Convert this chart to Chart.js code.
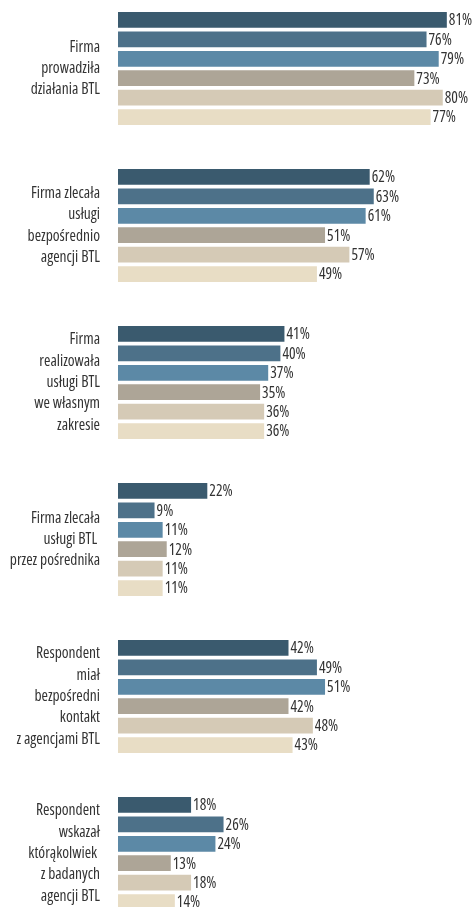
<!DOCTYPE html>
<html>
<head>
<meta charset="utf-8">
<script src="https://cdn.jsdelivr.net/npm/chart.js@4"></script>
<style>
  html, body { margin: 0; padding: 0; background: #ffffff; overflow: hidden; width: 472px; height: 907px; }
  #wrap { position: absolute; left: 0; top: -10px; width: 472px; height: 942px; }
</style>
</head>
<body>
<div id="wrap"><canvas id="c"></canvas></div>
<script>
const categories = [
  ["Firma", "prowadziła", "działania BTL"],
  ["Firma zlecała", "usługi", "bezpośrednio", "agencji BTL"],
  ["Firma", "realizowała", "usługi BTL", "we własnym", "zakresie"],
  ["Firma zlecała", "usługi BTL ", "przez pośrednika"],
  ["Respondent", "miał", "bezpośredni", "kontakt", "z agencjami BTL"],
  ["Respondent", "wskazał", "którąkolwiek ", "z badanych", "agencji BTL"]
];
const series1 = [81, 62, 41, 22, 42, 18];
const series2 = [76, 63, 40, 9, 49, 26];
const series3 = [79, 61, 37, 11, 51, 24];
const series4 = [73, 51, 35, 12, 42, 13];
const series5 = [80, 57, 36, 11, 48, 18];
const series6 = [77, 49, 36, 11, 43, 14];
const seriesNames = ["Seria 1", "Seria 2", "Seria 3", "Seria 4", "Seria 5", "Seria 6"];
const colors = ["#3a5a6e", "#4d7189", "#5c89a6", "#ada597", "#d5cab6", "#e8ddc5"];

const FONT = "'Open Sans', 'Liberation Sans', sans-serif";
const allSeries = [series1, series2, series3, series4, series5, series6];

const valueLabels = {
  id: 'valueLabels',
  afterDatasetsDraw(chart) {
    const ctx = chart.ctx;
    ctx.save();
    ctx.font = "condensed 15.5px " + FONT;
    ctx.fillStyle = "#333333";
    ctx.textAlign = "left";
    ctx.textBaseline = "middle";
    chart.data.datasets.forEach((ds, di) => {
      const meta = chart.getDatasetMeta(di);
      meta.data.forEach((bar, i) => {
        ctx.fillText(ds.data[i] + "%", bar.x + 2, bar.y + 1);
      });
    });
    ctx.restore();
  }
};

new Chart(document.getElementById('c'), {
  type: 'bar',
  data: {
    labels: categories,
    datasets: allSeries.map((s, i) => ({
      label: seriesNames[i],
      data: s,
      backgroundColor: colors[i],
      borderWidth: 0,
      categoryPercentage: 0.742,
      barPercentage: 0.815
    }))
  },
  options: {
    indexAxis: 'y',
    responsive: true,
    maintainAspectRatio: false,
    animation: false,
    layout: { padding: 0 },
    plugins: {
      legend: { display: false },
      tooltip: { enabled: false }
    },
    scales: {
      x: {
        display: false,
        min: 0,
        max: 87.2
      },
      y: {
        grid: { display: false, drawTicks: false },
        border: { display: false },
        afterFit(scale) {
          scale.width = 118;
          scale.paddingTop = 0;
          scale.paddingBottom = 0;
        },
        ticks: {
          padding: 18,
          color: "#333333",
          font: { family: FONT, size: 15.5, weight: 'condensed', lineHeight: 1.38 }
        }
      }
    }
  },
  plugins: [valueLabels]
});
</script>
</body>
</html>
